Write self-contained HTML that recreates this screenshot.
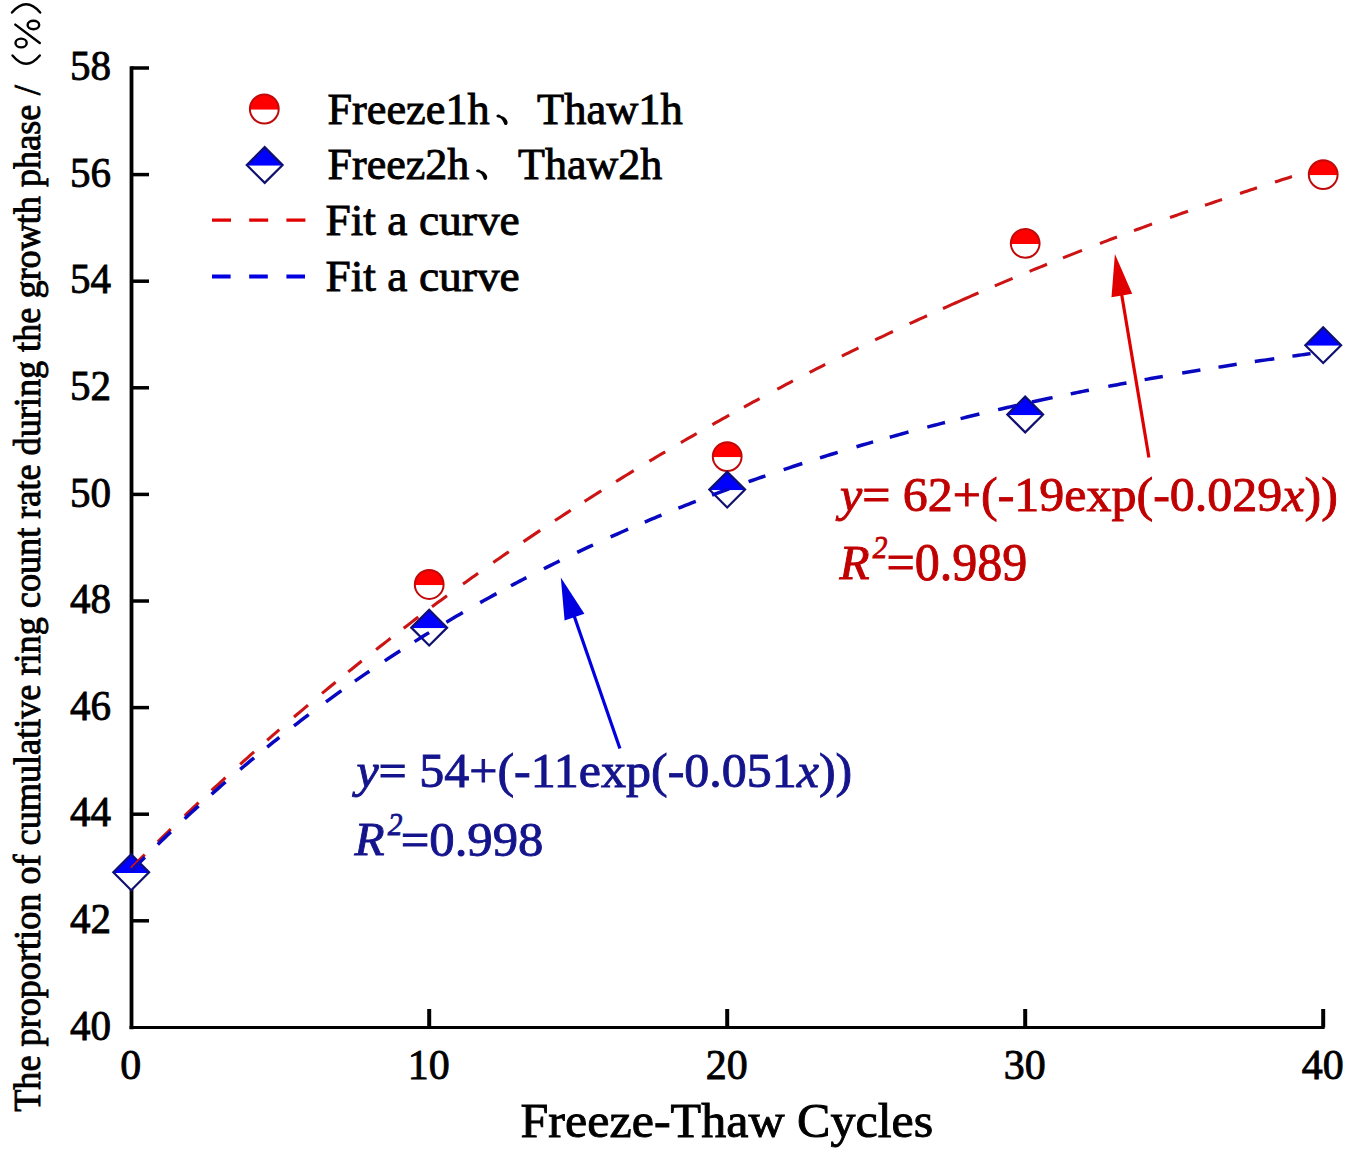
<!DOCTYPE html><html><head><meta charset="utf-8"><style>html,body{margin:0;padding:0;background:#fff;overflow:hidden}svg{display:block}text{font-family:"Liberation Serif",serif;}</style></head><body>
<svg width="1350" height="1152" viewBox="0 0 1350 1152">
<rect width="1350" height="1152" fill="#fff"/>
<g stroke="#000" fill="none">
<path d="M131.5 66.2 V1029.2" stroke-width="3.8"/>
<path d="M129.5 1027.5 H1324.6" stroke-width="3.2"/>
<path d="M131.5 920.80 H149" stroke-width="3.5"/>
<path d="M131.5 814.20 H149" stroke-width="3.5"/>
<path d="M131.5 707.60 H149" stroke-width="3.5"/>
<path d="M131.5 601.00 H149" stroke-width="3.5"/>
<path d="M131.5 494.40 H149" stroke-width="3.5"/>
<path d="M131.5 387.80 H149" stroke-width="3.5"/>
<path d="M131.5 281.20 H149" stroke-width="3.5"/>
<path d="M131.5 174.60 H149" stroke-width="3.5"/>
<path d="M131.5 68.00 H149" stroke-width="3.5"/>
<path d="M429.20 1027.5 V1009" stroke-width="4.0"/>
<path d="M727.20 1027.5 V1009" stroke-width="4.0"/>
<path d="M1025.20 1027.5 V1009" stroke-width="4.0"/>
<path d="M1323.20 1027.5 V1009" stroke-width="4.0"/>
</g>
<text transform="translate(111.0 1039.60) scale(0.955 1)" font-size="43.0" text-anchor="end" fill="#000" stroke="#000" stroke-width="0.9">40</text>
<text transform="translate(111.0 933.00) scale(0.955 1)" font-size="43.0" text-anchor="end" fill="#000" stroke="#000" stroke-width="0.9">42</text>
<text transform="translate(111.0 826.40) scale(0.955 1)" font-size="43.0" text-anchor="end" fill="#000" stroke="#000" stroke-width="0.9">44</text>
<text transform="translate(111.0 719.80) scale(0.955 1)" font-size="43.0" text-anchor="end" fill="#000" stroke="#000" stroke-width="0.9">46</text>
<text transform="translate(111.0 613.20) scale(0.955 1)" font-size="43.0" text-anchor="end" fill="#000" stroke="#000" stroke-width="0.9">48</text>
<text transform="translate(111.0 506.60) scale(0.955 1)" font-size="43.0" text-anchor="end" fill="#000" stroke="#000" stroke-width="0.9">50</text>
<text transform="translate(111.0 400.00) scale(0.955 1)" font-size="43.0" text-anchor="end" fill="#000" stroke="#000" stroke-width="0.9">52</text>
<text transform="translate(111.0 293.40) scale(0.955 1)" font-size="43.0" text-anchor="end" fill="#000" stroke="#000" stroke-width="0.9">54</text>
<text transform="translate(111.0 186.80) scale(0.955 1)" font-size="43.0" text-anchor="end" fill="#000" stroke="#000" stroke-width="0.9">56</text>
<text transform="translate(111.0 80.20) scale(0.955 1)" font-size="43.0" text-anchor="end" fill="#000" stroke="#000" stroke-width="0.9">58</text>
<text transform="translate(130.80 1079.2) scale(0.975 1)" font-size="43.0" text-anchor="middle" fill="#000" stroke="#000" stroke-width="0.9">0</text>
<text transform="translate(428.80 1079.2) scale(0.975 1)" font-size="43.0" text-anchor="middle" fill="#000" stroke="#000" stroke-width="0.9">10</text>
<text transform="translate(726.80 1079.2) scale(0.975 1)" font-size="43.0" text-anchor="middle" fill="#000" stroke="#000" stroke-width="0.9">20</text>
<text transform="translate(1024.80 1079.2) scale(0.975 1)" font-size="43.0" text-anchor="middle" fill="#000" stroke="#000" stroke-width="0.9">30</text>
<text transform="translate(1322.80 1079.2) scale(0.975 1)" font-size="43.0" text-anchor="middle" fill="#000" stroke="#000" stroke-width="0.9">40</text>
<text transform="translate(520.53 1137.08) scale(1.0472 1)" font-size="47.802" fill="#000" stroke="#000" stroke-width="0.9">Freeze-Thaw Cycles</text>
<text transform="translate(39.7 1111.8) rotate(-90) scale(0.9405 1)" font-size="38.5" fill="#000" stroke="#000" stroke-width="0.9">The proportion of cumulative ring count rate during the growth phase</text>
<text transform="translate(39.7 95.3) rotate(-90) scale(0.9405 1)" font-size="38.5" fill="#000" stroke="#000" stroke-width="0.9">/</text>
<g stroke="#000" stroke-width="2.4" fill="none" stroke-linecap="round"><path d="M12.5 55.5 Q26.2 72 39.8 55.5"/><path d="M12 12.5 Q26.2 -4 40.2 12.5"/><ellipse cx="33.4" cy="25" rx="5.8" ry="4.2"/><ellipse cx="21.1" cy="43" rx="5.6" ry="4.4"/><path d="M15.3 24.6 L39.8 43"/></g>
<text transform="translate(327.52 123.51) scale(1.0056 1)" font-size="44.0" fill="#000" stroke="#000" stroke-width="0.9">Freeze1h</text>
<text transform="translate(537.05 123.51) scale(1.0112 1)" font-size="44.0" fill="#000" stroke="#000" stroke-width="0.9">Thaw1h</text>
<text transform="translate(327.52 178.7) scale(1.0008 1)" font-size="44.0" fill="#000" stroke="#000" stroke-width="0.9">Freez2h</text>
<text transform="translate(518.06 178.7) scale(1.0 1)" font-size="44.0" fill="#000" stroke="#000" stroke-width="0.9">Thaw2h</text>
<text transform="translate(325.48 235.09) scale(1.0328 1)" font-size="44.0" fill="#000" stroke="#000" stroke-width="0.9">Fit a curve</text>
<text transform="translate(325.48 290.52) scale(1.0328 1)" font-size="44.0" fill="#000" stroke="#000" stroke-width="0.9">Fit a curve</text>
<path transform="translate(496.2 114.4)" d="M0.3 2.0 C0 0.6 1.6 -0.2 3.2 0.4 C4.2 0.8 4.6 1.6 5.8 1.8 C8.6 2.4 11.0 5.0 11.4 7.6 C11.6 9.8 10.6 10.8 9.4 10.7 C8.0 10.6 7.8 9.4 7.4 8.2 C6.6 6.4 5.6 4.8 4.0 3.6 C2.8 3.0 1.0 3.2 0.3 2.0Z" fill="#000"/>
<path transform="translate(475.8 169.2)" d="M0.3 2.0 C0 0.6 1.6 -0.2 3.2 0.4 C4.2 0.8 4.6 1.6 5.8 1.8 C8.6 2.4 11.0 5.0 11.4 7.6 C11.6 9.8 10.6 10.8 9.4 10.7 C8.0 10.6 7.8 9.4 7.4 8.2 C6.6 6.4 5.6 4.8 4.0 3.6 C2.8 3.0 1.0 3.2 0.3 2.0Z" fill="#000"/>
<path d="M249.92 109.70 A14.4 14.4 0 1 1 278.68 109.70 Z" fill="#ff0000"/><path d="M249.92 109.70 A14.4 14.4 0 0 0 278.68 109.70 Z" fill="#fff"/><circle cx="264.30" cy="109.00" r="14.4" fill="none" stroke="#c00a0a" stroke-width="2.0"/>
<path d="M247.50 165.70 L246.80 165.00 L264.70 147.10 L282.60 165.00 L281.90 165.70 Z" fill="#0000ff"/><path d="M247.50 165.70 L264.70 182.90 L281.90 165.70 Z" fill="#fff"/><path d="M246.80 165.00 L264.70 147.10 L282.60 165.00 L264.70 182.90 Z" fill="none" stroke="#101070" stroke-width="2.2"/>
<path d="M212 220.2 H306" stroke="#e00000" stroke-width="3.2" stroke-dasharray="19 18.2"/>
<path d="M212 276.4 H306" stroke="#0000e0" stroke-width="4" stroke-dasharray="18.6 18.6"/>
<path d="M414.82 585.18 A14.4 14.4 0 1 1 443.58 585.18 Z" fill="#ff0000"/><path d="M414.82 585.18 A14.4 14.4 0 0 0 443.58 585.18 Z" fill="#fff"/><circle cx="429.20" cy="584.48" r="14.4" fill="none" stroke="#c00a0a" stroke-width="2.0"/>
<path d="M712.82 457.26 A14.4 14.4 0 1 1 741.58 457.26 Z" fill="#ff0000"/><path d="M712.82 457.26 A14.4 14.4 0 0 0 741.58 457.26 Z" fill="#fff"/><circle cx="727.20" cy="456.56" r="14.4" fill="none" stroke="#c00a0a" stroke-width="2.0"/>
<path d="M1010.82 244.06 A14.4 14.4 0 1 1 1039.58 244.06 Z" fill="#ff0000"/><path d="M1010.82 244.06 A14.4 14.4 0 0 0 1039.58 244.06 Z" fill="#fff"/><circle cx="1025.20" cy="243.36" r="14.4" fill="none" stroke="#c00a0a" stroke-width="2.0"/>
<path d="M1308.82 175.30 A14.4 14.4 0 1 1 1337.58 175.30 Z" fill="#ff0000"/><path d="M1308.82 175.30 A14.4 14.4 0 0 0 1337.58 175.30 Z" fill="#fff"/><circle cx="1323.20" cy="174.60" r="14.4" fill="none" stroke="#c00a0a" stroke-width="2.0"/>
<path d="M114.00 873.00 L113.30 872.30 L131.20 854.40 L149.10 872.30 L148.40 873.00 Z" fill="#0000ff"/><path d="M114.00 873.00 L131.20 890.20 L148.40 873.00 Z" fill="#fff"/><path d="M113.30 872.30 L131.20 854.40 L149.10 872.30 L131.20 890.20 Z" fill="none" stroke="#101070" stroke-width="2.2"/>
<path d="M412.00 628.35 L411.30 627.65 L429.20 609.75 L447.10 627.65 L446.40 628.35 Z" fill="#0000ff"/><path d="M412.00 628.35 L429.20 645.55 L446.40 628.35 Z" fill="#fff"/><path d="M411.30 627.65 L429.20 609.75 L447.10 627.65 L429.20 645.55 Z" fill="none" stroke="#101070" stroke-width="2.2"/>
<path d="M710.00 490.30 L709.30 489.60 L727.20 471.70 L745.10 489.60 L744.40 490.30 Z" fill="#0000ff"/><path d="M710.00 490.30 L727.20 507.50 L744.40 490.30 Z" fill="#fff"/><path d="M709.30 489.60 L727.20 471.70 L745.10 489.60 L727.20 507.50 Z" fill="none" stroke="#101070" stroke-width="2.2"/>
<path d="M1008.00 415.15 L1007.30 414.45 L1025.20 396.55 L1043.10 414.45 L1042.40 415.15 Z" fill="#0000ff"/><path d="M1008.00 415.15 L1025.20 432.35 L1042.40 415.15 Z" fill="#fff"/><path d="M1007.30 414.45 L1025.20 396.55 L1043.10 414.45 L1025.20 432.35 Z" fill="none" stroke="#101070" stroke-width="2.2"/>
<path d="M1306.00 345.86 L1305.30 345.16 L1323.20 327.26 L1341.10 345.16 L1340.40 345.86 Z" fill="#0000ff"/><path d="M1306.00 345.86 L1323.20 363.06 L1340.40 345.86 Z" fill="#fff"/><path d="M1305.30 345.16 L1323.20 327.26 L1341.10 345.16 L1323.20 363.06 Z" fill="none" stroke="#101070" stroke-width="2.2"/>
<path d="M131.20,868.14 L134.60,864.73 L138.00,861.32 L141.40,857.93 L144.80,854.56 M157.80,841.74 L161.05,838.57 L164.30,835.40 L167.55,832.24 L170.80,829.10 M184.70,815.75 L188.17,812.44 L191.65,809.15 L195.12,805.86 L198.60,802.59 M211.60,790.45 L215.07,787.23 L218.55,784.02 L222.02,780.82 L225.50,777.64 M240.20,764.28 L243.67,761.15 L247.15,758.03 L250.62,754.92 L254.10,751.83 M267.20,740.25 L270.23,737.60 L273.25,734.95 L276.27,732.32 L279.30,729.69 M294.00,717.03 L297.50,714.04 L301.00,711.06 L304.50,708.10 L308.00,705.14 M322.00,693.42 L325.40,690.60 L328.80,687.79 L332.20,684.98 L335.60,682.19 M348.20,671.92 L351.57,669.19 L354.95,666.47 L358.33,663.76 L361.70,661.06 M376.10,649.64 L379.73,646.79 L383.35,643.95 L386.98,641.12 L390.60,638.30 M403.70,628.19 L407.35,625.40 L411.00,622.62 L414.65,619.85 L418.30,617.08 M432.00,606.81 L435.00,604.58 L438.00,602.35 L441.00,600.13 L444.00,597.92 L447.00,595.71 M463.00,584.06 L466.02,581.89 L469.04,579.71 L472.06,577.55 L475.08,575.39 L478.10,573.24 M493.30,562.50 L496.40,560.34 L499.50,558.17 L502.60,556.02 L505.70,553.87 L508.80,551.72 M523.50,541.65 L526.84,539.39 L530.18,537.13 L533.52,534.87 L536.86,532.63 L540.20,530.39 M555.00,520.56 L558.14,518.50 L561.28,516.44 L564.42,514.39 L567.56,512.34 L570.70,510.30 M584.60,501.34 L587.94,499.21 L591.28,497.08 L594.62,494.96 L597.96,492.85 L601.30,490.74 M616.10,481.50 L619.62,479.32 L623.14,477.15 L626.66,474.99 L630.18,472.83 L633.70,470.68 M649.40,461.19 L652.56,459.30 L655.72,457.41 L658.88,455.53 L662.04,453.65 L665.20,451.79 M680.90,442.59 L684.06,440.75 L687.22,438.93 L690.38,437.10 L693.54,435.29 L696.70,433.48 M712.40,424.56 L715.76,422.67 L719.12,420.79 L722.48,418.91 L725.84,417.04 L729.20,415.18 M744.00,407.04 L747.12,405.34 L750.24,403.64 L753.36,401.95 L756.48,400.27 L759.60,398.59 M777.30,389.16 L780.42,387.51 L783.54,385.87 L786.66,384.24 L789.78,382.61 L792.90,380.99 M809.60,372.38 L812.72,370.78 L815.84,369.19 L818.96,367.61 L822.08,366.03 L825.20,364.46 M841.90,356.12 L845.22,354.48 L848.54,352.85 L851.86,351.22 L855.18,349.59 L858.50,347.97 M875.20,339.91 L878.74,338.22 L882.28,336.53 L885.82,334.85 L889.36,333.17 L892.90,331.50 M909.60,323.71 L913.08,322.10 L916.56,320.50 L920.04,318.91 L923.52,317.31 L927.00,315.73 M943.00,308.51 L946.23,307.07 L949.45,305.63 L952.68,304.20 L955.91,302.77 L959.14,301.34 L962.36,299.92 L965.59,298.51 L968.82,297.10 L972.05,295.69 L975.27,294.29 L978.50,292.90 M994.80,285.91 L998.36,284.40 L1001.92,282.89 L1005.48,281.39 L1009.04,279.90 L1012.60,278.41 M1029.60,271.37 L1033.08,269.94 L1036.56,268.52 L1040.04,267.11 L1043.52,265.70 L1047.00,264.29 M1063.00,257.88 L1066.17,256.63 L1069.33,255.38 L1072.50,254.13 L1075.67,252.88 L1078.83,251.64 L1082.00,250.41 M1100.00,243.46 L1103.40,242.16 L1106.80,240.86 L1110.20,239.57 L1113.60,238.29 L1117.00,237.00 M1134.00,230.66 L1137.00,229.55 L1140.00,228.45 L1143.00,227.34 L1146.00,226.25 L1149.00,225.15 L1152.00,224.06 M1170.00,217.58 L1173.00,216.51 L1176.00,215.44 L1179.00,214.38 L1182.00,213.32 L1185.00,212.26 L1188.00,211.21 M1205.00,205.30 L1208.40,204.13 L1211.80,202.96 L1215.20,201.80 L1218.60,200.64 L1222.00,199.49 M1240.00,193.44 L1243.40,192.31 L1246.80,191.18 L1250.20,190.06 L1253.60,188.94 L1257.00,187.83 M1275.00,181.99 L1278.40,180.90 L1281.80,179.81 L1285.20,178.73 L1288.60,177.65 L1292.00,176.57" fill="none" stroke="#cc1414" stroke-width="3.1"/>
<path d="M131.20,870.99 L134.60,867.52 L138.00,864.08 L141.40,860.66 L144.80,857.25 M157.80,844.42 L161.05,841.26 L164.30,838.12 L167.55,834.99 L170.80,831.88 M184.70,818.77 L188.17,815.54 L191.65,812.33 L195.12,809.14 L198.60,805.96 M211.60,794.26 L215.07,791.18 L218.55,788.11 L222.02,785.06 L225.50,782.04 M240.20,769.42 L243.67,766.48 L247.15,763.56 L250.62,760.66 L254.10,757.78 M267.20,747.06 L270.23,744.61 L273.25,742.18 L276.27,739.77 L279.30,737.36 M294.00,725.86 L297.67,723.03 L301.35,720.21 L305.02,717.42 L308.70,714.64 M326.00,701.79 L329.08,699.54 L332.16,697.30 L335.24,695.08 L338.32,692.87 L341.40,690.67 M354.90,681.15 L358.52,678.64 L362.15,676.14 L365.77,673.65 L369.40,671.18 M384.80,660.86 L387.88,658.82 L390.96,656.80 L394.04,654.79 L397.12,652.79 L400.20,650.80 M414.60,641.63 L418.23,639.36 L421.85,637.10 L425.48,634.86 L429.10,632.63 M446.40,622.17 L449.68,620.23 L452.96,618.29 L456.24,616.36 L459.52,614.45 L462.80,612.54 M480.20,602.62 L483.46,600.79 L486.72,598.98 L489.98,597.17 L493.24,595.37 L496.50,593.59 M511.00,585.76 L514.08,584.12 L517.16,582.49 L520.24,580.87 L523.32,579.26 L526.40,577.66 M543.90,568.71 L547.04,567.13 L550.18,565.56 L553.32,564.00 L556.46,562.45 L559.60,560.90 M577.20,552.40 L580.36,550.90 L583.52,549.41 L586.68,547.92 L589.84,546.45 L593.00,544.98 M610.60,536.95 L614.10,535.38 L617.60,533.82 L621.10,532.27 L624.60,530.73 L628.10,529.20 M644.80,522.02 L648.14,520.60 L651.48,519.20 L654.82,517.80 L658.16,516.42 L661.50,515.04 M678.40,508.17 L681.88,506.78 L685.36,505.40 L688.84,504.03 L692.32,502.67 L695.80,501.31 M712.00,495.11 L715.40,493.82 L718.80,492.55 L722.20,491.28 L725.60,490.03 L729.00,488.77 M748.60,481.70 L751.96,480.51 L755.32,479.33 L758.68,478.15 L762.04,476.99 L765.40,475.82 M783.70,469.61 L786.80,468.58 L789.90,467.55 L793.00,466.53 L796.10,465.51 L799.20,464.50 L802.30,463.49 M820.00,457.85 L823.54,456.74 L827.08,455.64 L830.62,454.54 L834.16,453.46 L837.70,452.37 M856.50,446.74 L859.82,445.76 L863.14,444.79 L866.46,443.82 L869.78,442.86 L873.10,441.91 M889.80,437.19 L892.92,436.32 L896.03,435.46 L899.15,434.60 L902.27,433.75 L905.38,432.90 L908.50,432.06 M927.30,427.07 L930.84,426.14 L934.38,425.23 L937.92,424.32 L941.46,423.41 L945.00,422.51 M960.60,418.61 L963.73,417.84 L966.87,417.07 L970.00,416.30 L973.13,415.55 L976.27,414.79 L979.40,414.04 M998.10,409.64 L1001.13,408.94 L1004.17,408.24 L1007.20,407.55 L1010.23,406.86 L1013.27,406.17 L1016.30,405.49 M1031.90,402.04 L1035.35,401.29 L1038.80,400.54 L1042.25,399.80 L1045.70,399.06 L1049.15,398.32 L1052.60,397.59 M1070.70,393.84 L1073.73,393.22 L1076.77,392.60 L1079.80,391.99 L1082.83,391.38 L1085.87,390.78 L1088.90,390.17 M1108.30,386.39 L1111.33,385.81 L1114.37,385.23 L1117.40,384.66 L1120.43,384.09 L1123.47,383.52 L1126.50,382.96 M1144.60,379.64 L1147.63,379.10 L1150.67,378.56 L1153.70,378.02 L1156.73,377.48 L1159.77,376.95 L1162.80,376.42 M1182.20,373.08 L1185.23,372.57 L1188.27,372.07 L1191.30,371.56 L1194.33,371.06 L1197.37,370.56 L1200.40,370.06 M1218.50,367.14 L1221.53,366.66 L1224.57,366.18 L1227.60,365.71 L1230.63,365.23 L1233.67,364.76 L1236.70,364.30 M1254.80,361.55 L1258.05,361.07 L1261.30,360.59 L1264.55,360.11 L1267.80,359.64 L1271.05,359.16 L1274.30,358.69 M1292.40,356.12 L1295.43,355.70 L1298.47,355.28 L1301.50,354.86 L1304.53,354.44 L1307.57,354.03 L1310.60,353.62" fill="none" stroke="#0808c0" stroke-width="3.5"/>
<path d="M1148.9 457.6 L1121.5 293.5" stroke="#e00000" stroke-width="3.2"/><path d="M1114.9 254 L1132.2 293.7 L1111.5 297.2 Z" fill="#e00000"/>
<path d="M619.9 748.4 L573.9 615.2" stroke="#0000e0" stroke-width="3.2"/><path d="M560.8 577.4 L584.4 613.7 L564.6 620.5 Z" fill="#0000e0"/>
<text transform="translate(839.97 510.81) scale(1.0123 1)" font-size="49.392" fill="#c00000" stroke="#c00000" stroke-width="0.9"><tspan font-style="italic">y</tspan>= 62+(-19exp(-0.029<tspan font-style="italic">x</tspan>))</text>
<text transform="translate(839.56 578.51) scale(1.0236 1)" font-size="48.069" fill="#c00000" stroke="#c00000" stroke-width="0.9"><tspan font-style="italic">R</tspan></text>
<text transform="translate(872.78 557.72) scale(0.9074 1)" font-size="32.41" fill="#c00000" stroke="#c00000" stroke-width="0.9"><tspan font-style="italic">2</tspan></text>
<text transform="translate(886.49 579.75) scale(0.9672 1)" font-size="51.761" fill="#c00000" stroke="#c00000" stroke-width="0.9">=0.989</text>
<text transform="translate(356.38 787.2) scale(1.0519 1)" font-size="47.535" fill="#14148c" stroke="#14148c" stroke-width="0.9"><tspan font-style="italic">y</tspan>= 54+(-11exp(-0.051<tspan font-style="italic">x</tspan>))</text>
<text transform="translate(354.55 854.66) scale(1.0396 1)" font-size="47.316" fill="#14148c" stroke="#14148c" stroke-width="0.9"><tspan font-style="italic">R</tspan></text>
<text transform="translate(387.78 834.67) scale(0.9074 1)" font-size="32.41" fill="#14148c" stroke="#14148c" stroke-width="0.9"><tspan font-style="italic">2</tspan></text>
<text transform="translate(400.66 855.59) scale(1.0417 1)" font-size="48.697" fill="#14148c" stroke="#14148c" stroke-width="0.9">=0.998</text>
</svg></body></html>
